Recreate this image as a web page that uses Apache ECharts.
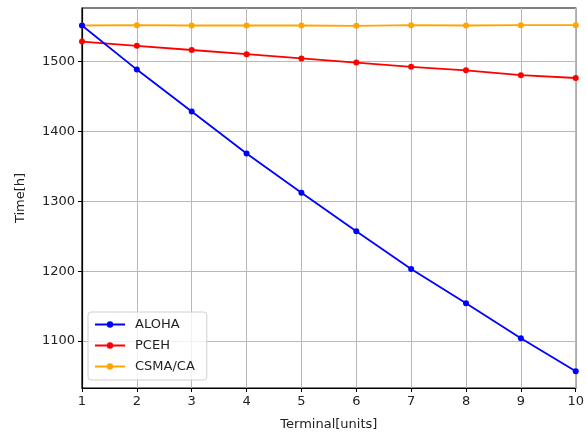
<!DOCTYPE html>
<html><head><meta charset="utf-8">
<script src="https://cdn.jsdelivr.net/npm/echarts@6/dist/echarts.min.js"></script>
<style>html,body{margin:0;padding:0;background:#fff}#c{width:587px;height:443px}</style>
</head><body><div id="c"></div>
<script>
const terminals = [1,2,3,4,5,6,7,8,9,10];
const aloha = [1551,1488,1428,1368,1312,1257,1203,1154,1104,1057];
const pceh = [1528,1522,1516,1510,1504,1498,1492,1487,1480,1476];
const csma = [1551,1551.5,1551,1551,1551,1550.5,1551.5,1551,1551.5,1551.5];
const yTicks = [1100,1200,1300,1400,1500];
const xTicks = [1,2,3,4,5,6,7,8,9,10];

const font = 'DejaVu Sans';
const chart = echarts.init(document.getElementById('c'));
function mk(name, data, color){
  return {name, type:'line', data: terminals.map((t,i)=>[t,data[i]]),
    symbol:'circle', symbolSize:6, showSymbol:true,
    lineStyle:{color, width:1.8}, itemStyle:{color}, emphasis:{disabled:true}, z: name==='ALOHA'?4:3};
}
chart.setOption({
  animation:false,
  textStyle:{fontFamily:font},
  grid:{left:82,right:10,top:8,bottom:55,show:true,borderColor:'#000',borderWidth:1.2,backgroundColor:'transparent'},
  xAxis:{type:'value',min:1,max:10,interval:1,
    axisLine:{show:true,lineStyle:{color:'#000',width:1.2}},
    axisTick:{show:true,length:4,lineStyle:{color:'#000'}},
    axisLabel:{color:'#222',fontSize:13,fontFamily:font,margin:7,formatter:v=>String(v)},
    splitLine:{show:true,lineStyle:{color:'#b8b8b8',width:1}},
    name:'Terminal[units]',nameLocation:'middle',nameGap:30,
    nameTextStyle:{color:'#222',fontSize:13,fontFamily:font}},
  yAxis:{type:'value',min:1033,max:1576,
    axisLine:{show:true,lineStyle:{color:'#000',width:1.2}},
    axisTick:{show:true,length:4,lineStyle:{color:'#000'},customValues:yTicks},
    axisLabel:{color:'#222',fontSize:13,fontFamily:font,margin:7,customValues:yTicks,formatter:v=>String(v)},
    splitLine:{show:true,lineStyle:{color:'#b8b8b8',width:1}},
    name:'Time[h]',nameLocation:'middle',nameGap:55,nameRotate:90,
    nameTextStyle:{color:'#222',fontSize:13,fontFamily:font}},
  legend:{left:88,top:312,orient:'vertical',itemWidth:30,itemHeight:8,itemGap:8,
    padding:[6,12,7,6],
    backgroundColor:'rgba(255,255,255,0.8)',borderColor:'#d0d0d0',borderWidth:1,borderRadius:3,
    textStyle:{color:'#222',fontSize:13,fontFamily:font,padding:[0,0,0,5]},
    data:['ALOHA','PCEH','CSMA/CA']},
  series:[mk('ALOHA',aloha,'#0000ff'),mk('PCEH',pceh,'#ff0000'),mk('CSMA/CA',csma,'#ffa500')]
});
</script></body></html>
